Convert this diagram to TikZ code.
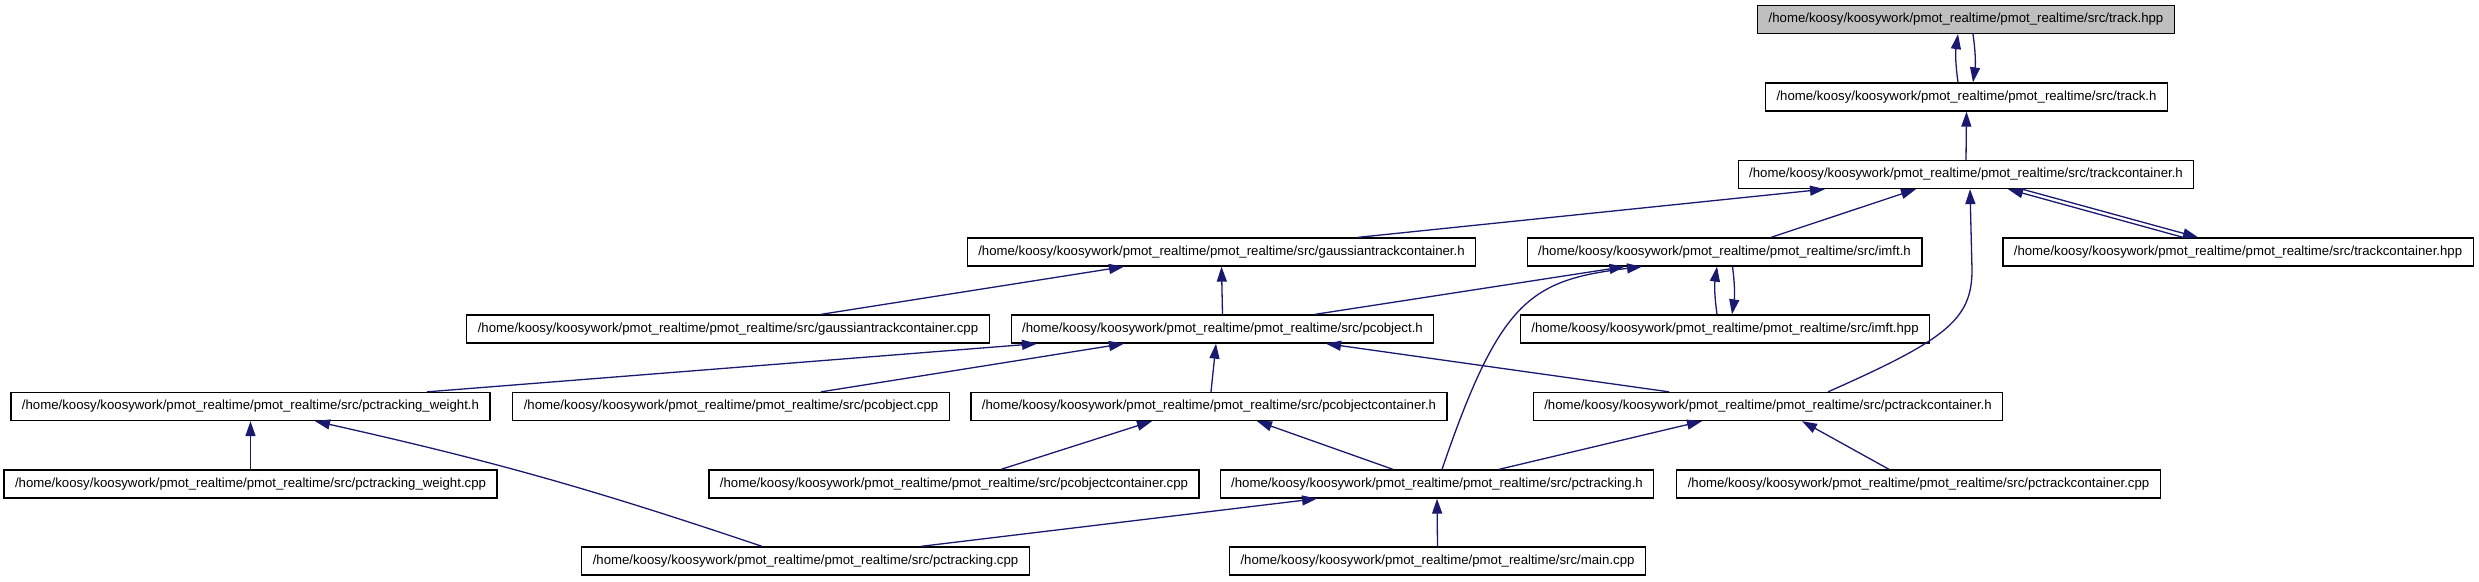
\documentclass[tikz,border=0pt]{standalone}
\usepackage{fontspec}
\setmainfont{Liberation Sans}
\usepackage{tikz}
\usetikzlibrary{arrows.meta}
\definecolor{edgeblue}{RGB}{25,25,112}
\definecolor{headgrey}{RGB}{191,191,191}
\newcommand{\srcpath}[1]{/home/koosy/koosywork/pmot\_realtime/pmot\_realtime/src/#1}

\begin{document}
\begin{tikzpicture}[x=1pt,y=1pt,>={Triangle[length=15pt,width=10pt]},
  file/.style={draw=black,line width=1.3pt,fill=white,inner xsep=11pt,inner ysep=0pt,
    minimum height=28pt,font=\fontsize{13.2}{15}\selectfont},
  dep/.style={->,edgeblue,line width=1.3pt}]
  \useasboundingbox (0,0) rectangle (2479,581);
  % rows, top to bottom
  \node[file,fill=headgrey] (trackhpp) at (1966,561.5) {\srcpath{track.hpp}};
  \node[file] (trackh) at (1966.5,484) {\srcpath{track.h}};
  \node[file] (tch) at (1966,406.5) {\srcpath{trackcontainer.h}};
  \node[file] (gtch) at (1221.5,329) {\srcpath{gaussiantrackcontainer.h}};
  \node[file] (imfth) at (1724.5,329) {\srcpath{imft.h}};
  \node[file] (tchpp) at (2238,329) {\srcpath{trackcontainer.hpp}};
  \node[file] (gtccpp) at (728,252) {\srcpath{gaussiantrackcontainer.cpp}};
  \node[file] (pcobjh) at (1222.5,252) {\srcpath{pcobject.h}};
  \node[file] (imfthpp) at (1725,252) {\srcpath{imft.hpp}};
  \node[file] (pcwh) at (250.5,174.5) {\srcpath{pctracking\_weight.h}};
  \node[file] (pcobjcpp) at (731,174.5) {\srcpath{pcobject.cpp}};
  \node[file] (pcobjch) at (1209,174.5) {\srcpath{pcobjectcontainer.h}};
  \node[file] (pctch) at (1768,174.5) {\srcpath{pctrackcontainer.h}};
  \node[file] (pcwcpp) at (250.5,97) {\srcpath{pctracking\_weight.cpp}};
  \node[file] (pcobjccpp) at (954,97) {\srcpath{pcobjectcontainer.cpp}};
  \node[file] (pctrh) at (1437,97) {\srcpath{pctracking.h}};
  \node[file] (pctccpp) at (1918.5,97) {\srcpath{pctrackcontainer.cpp}};
  \node[file] (pctrcpp) at (805.5,20) {\srcpath{pctracking.cpp}};
  \node[file] (maincpp) at (1437.5,20) {\srcpath{main.cpp}};
  % include edges
  \draw[dep] ([xshift=-8.5pt]trackh.north) to[bend left=8] ([xshift=-8pt]trackhpp.south);
  \draw[dep] ([xshift=7pt]trackhpp.south) to[bend left=8] ([xshift=6.5pt]trackh.north);
  \draw[dep] (tch.north) -- (trackh.south);
  \draw[dep] ([xshift=136.5pt]gtch.north) -- ([xshift=-141pt]tch.south);
  \draw[dep] ([xshift=46.5pt]imfth.north) -- ([xshift=-50pt]tch.south);
  \draw[dep] ([xshift=-55pt]tchpp.north) -- ([xshift=42pt]tch.south);
  \draw[dep] ([xshift=56pt]tch.south) -- ([xshift=-40pt]tchpp.north);
  \draw[dep] ([xshift=60pt]pctch.north) .. controls (1945,241) and (1972,261) .. (1972,311)
    -- ([xshift=4pt]tch.south);
  \draw[dep] ([xshift=93pt]gtccpp.north) -- ([xshift=-97.5pt]gtch.south);
  \draw[dep] (pcobjh.north) -- (gtch.south);
  \draw[dep] ([xshift=92.5pt]pcobjh.north) -- ([xshift=-100pt]imfth.south);
  \draw[dep] ([xshift=5pt]pctrh.north) .. controls (1500,281) and (1530,301) .. ([xshift=-82.5pt]imfth.south);
  \draw[dep] ([xshift=-8pt]imfthpp.north) to[bend left=8] ([xshift=-7.5pt]imfth.south);
  \draw[dep] ([xshift=8pt]imfth.south) to[bend left=8] ([xshift=7pt]imfthpp.north);
  \draw[dep] ([xshift=176.5pt]pcwh.north) -- ([xshift=-185.5pt]pcobjh.south);
  \draw[dep] ([xshift=90pt]pcobjcpp.north) -- ([xshift=-98.5pt]pcobjh.south);
  \draw[dep] ([xshift=2pt]pcobjch.north) -- ([xshift=-6.5pt]pcobjh.south);
  \draw[dep] ([xshift=-99pt]pctch.north) -- ([xshift=103.5pt]pcobjh.south);
  \draw[dep] (pcwcpp.north) -- (pcwh.south);
  \draw[dep] ([xshift=-43.5pt]pctrcpp.north) to[bend right=3] ([xshift=64.5pt]pcwh.south);
  \draw[dep] ([xshift=47pt]pcobjccpp.north) -- ([xshift=-57pt]pcobjch.south);
  \draw[dep] ([xshift=-44pt]pctrh.north) -- ([xshift=48pt]pcobjch.south);
  \draw[dep] ([xshift=62pt]pctrh.north) -- ([xshift=-66pt]pctch.south);
  \draw[dep] ([xshift=-29.5pt]pctccpp.north) -- ([xshift=34pt]pctch.south);
  \draw[dep] ([xshift=115.5pt]pctrcpp.north) -- ([xshift=-120pt]pctrh.south);
  \draw[dep] (maincpp.north) -- (pctrh.south);
\end{tikzpicture}
\end{document}
